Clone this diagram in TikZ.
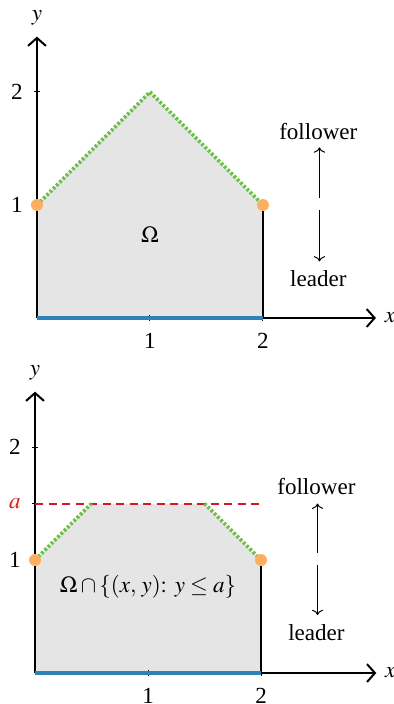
\documentclass[tikz,border=0pt]{standalone}
\usepackage{mathptmx}
\usepackage[no-math]{fontspec}
\setmainfont{Liberation Serif}
\usetikzlibrary{arrows.meta}
\definecolor{regfill}{HTML}{E5E5E5}
\definecolor{baseblue}{HTML}{2B83BA}
\definecolor{topgreen}{HTML}{6CC04A}
\definecolor{dotorange}{HTML}{FDAE61}
\definecolor{levelred}{HTML}{D7191C}
\tikzset{
  axisline/.style={line width=1pt,-{Straight Barb[length=4pt,width=9pt]}},
  sideline/.style={line width=1.1pt,black},
  baseline/.style={line width=2pt,baseblue},
  topline/.style={line width=1.9pt,topgreen,dash pattern=on 1.3pt off 1.0pt},
  cornerdot/.style={circle,fill=dotorange,inner sep=0pt,minimum size=6pt},
  tickmark/.style={line width=0.5pt},
  lab/.style={font=\fontsize{11.6}{13}\selectfont},
  roleline/.style={line width=0.5pt,->},
}
\begin{document}
\begin{tikzpicture}[x=2cm,y=2cm,lab]
\useasboundingbox (0,0) rectangle (3.4867,6.230);
% ---------- top plot ----------
\begin{scope}[shift={(0.327,3.416)}]
  \fill[regfill] (0,0) -- (0,1) -- (1,2) -- (2,1) -- (2,0) -- cycle;
  \coordinate (tO) at (0,0);
  \coordinate (tXend) at (3,0);
  \coordinate (tYend) at (0,2.49);
  \draw[axisline] (tO) -- (tXend);
  \draw[axisline] (tO) -- (tYend);
  \node[anchor=west,inner sep=2pt] (tx) at (3.04,0) {$x$};
  \node[anchor=south,inner sep=2pt] (ty) at (0,2.55) {$y$};
  \foreach \t in {1,2} {
    \draw[tickmark] (\t,-0.025) -- (\t,0.025);
    \draw[tickmark] (-0.025,\t) -- (0.025,\t);
    \node[anchor=north] (tx\t) at (\t,-0.07) {\t};
    \node[anchor=east] (ty\t) at (-0.065,\t) {\t};
  }
  \coordinate (tA) at (0,1);
  \coordinate (tB) at (1,2);
  \coordinate (tC) at (2,1);
  \coordinate (tD) at (2,0);
  \draw[sideline] (tO) -- (tA);
  \draw[sideline] (tD) -- (tC);
  \draw[baseline] (tO) -- (tD);
  \draw[topline] (tA) -- (tB) -- (tC);
  \node[cornerdot] (tdl) at (tA) {};
  \node[cornerdot] (tdr) at (tC) {};
  \node (tomega) at (1,0.74) {$\Omega$};
  \node (tfol) at (2.49,1.65) {follower};
  \node (tlea) at (2.49,0.35) {leader};
  \coordinate (tu1) at (2.5,1.06);
  \coordinate (tu2) at (2.5,1.51);
  \coordinate (td1) at (2.5,0.955);
  \coordinate (td2) at (2.5,0.50);
  \draw[roleline] (tu1) -- (tu2);
  \draw[roleline] (td1) -- (td2);
\end{scope}
% ---------- bottom plot ----------
\begin{scope}[shift={(0.310,0.274)}]
  \fill[regfill] (0,0) -- (0,1) -- (0.5,1.5) -- (1.5,1.5) -- (2,1) -- (2,0) -- cycle;
  \coordinate (bO) at (0,0);
  \coordinate (bXend) at (3.02,0);
  \coordinate (bYend) at (0,2.49);
  \draw[axisline] (bO) -- (bXend);
  \draw[axisline] (bO) -- (bYend);
  \node[anchor=west,inner sep=2pt] (bx) at (3.06,0) {$x$};
  \node[anchor=south,inner sep=2pt] (by) at (0,2.55) {$y$};
  \foreach \t in {1,2} {
    \draw[tickmark] (\t,-0.025) -- (\t,0.025);
    \draw[tickmark] (-0.025,\t) -- (0.025,\t);
    \node[anchor=north] (bx\t) at (\t,-0.07) {\t};
    \node[anchor=east] (by\t) at (-0.065,\t) {\t};
  }
  \draw[tickmark] (-0.025,1.5) -- (0.025,1.5);
  \node[anchor=east,text=levelred] (ba) at (-0.065,1.5) {$a$};
  \coordinate (bA) at (0,1);
  \coordinate (bB) at (0.5,1.5);
  \coordinate (bB2) at (1.5,1.5);
  \coordinate (bC) at (2,1);
  \coordinate (bD) at (2,0);
  \coordinate (bL) at (0,1.5);
  \coordinate (bR) at (2,1.5);
  \draw[levelred,line width=1pt,dash pattern=on 4.2pt off 2.6pt] (bL) -- (bR);
  \draw[sideline] (bO) -- (bA);
  \draw[sideline] (bD) -- (bC);
  \draw[baseline] (bO) -- (bD);
  \draw[topline] (bA) -- (bB);
  \draw[topline] (bB2) -- (bC);
  \node[cornerdot] (bdl) at (bA) {};
  \node[cornerdot] (bdr) at (bC) {};
  \node (bomega) at (1,0.76) {$\Omega\mathbin{\cap}\{(x,\,y)\colon\; y\mathrel{\le} a\}$};
  \node (bfol) at (2.49,1.65) {follower};
  \node (blea) at (2.49,0.354) {leader};
  \coordinate (bu1) at (2.5,1.06);
  \coordinate (bu2) at (2.5,1.50);
  \coordinate (bd1) at (2.5,0.956);
  \coordinate (bd2) at (2.5,0.513);
  \draw[roleline] (bu1) -- (bu2);
  \draw[roleline] (bd1) -- (bd2);
\end{scope}
\end{tikzpicture}
\end{document}
